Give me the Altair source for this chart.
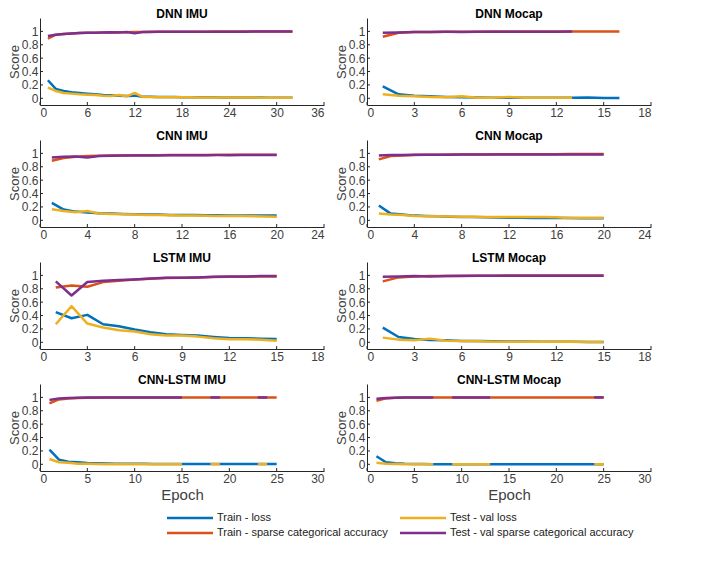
import altair as alt
import pandas as pd

# ---------------- data ----------------
series_names = ["Train - loss", "Train - sparse categorical accuracy",
                "Test - val loss", "Test - val sparse categorical accuracy"]
series_colors = ["#0072BD", "#D95319", "#EDB120", "#7E2F8E"]
legend_col = [0, 0, 1, 1]
legend_row = [0, 1, 0, 1]

N = None

# DNN IMU (32 epochs)
dnn_imu_tl = [0.27, 0.14, 0.11, 0.09, 0.08, 0.07, 0.06, 0.05, 0.045, 0.04, 0.035, 0.04, 0.025, 0.022,
              0.02, 0.02, 0.018, 0.017, 0.016, 0.015, 0.015, 0.014, 0.013, 0.013, 0.012, 0.012, 0.011,
              0.011, 0.01, 0.01, 0.01, 0.01]
dnn_imu_ta = [0.89, 0.95, 0.96, 0.97, 0.975, 0.978, 0.98, 0.983, 0.985, 0.987, 0.988, 0.99, 0.992,
              0.993, 0.994, 0.994, 0.995, 0.995, 0.996, 0.996, 0.996, 0.997, 0.997, 0.997, 0.997, 0.998,
              0.998, 0.998, 0.998, 0.998, 0.998, 0.998]
dnn_imu_vl = [0.16, 0.11, 0.08, 0.07, 0.06, 0.055, 0.05, 0.04, 0.035, 0.05, 0.03, 0.08, 0.02, 0.018,
              0.017, 0.016, 0.015, 0.015, 0.014, 0.013, 0.013, 0.012, 0.012, 0.012, 0.011, 0.011, 0.011,
              0.01, 0.01, 0.01, 0.01, 0.01]
dnn_imu_va = [0.93, 0.95, 0.96, 0.97, 0.975, 0.978, 0.98, 0.985, 0.987, 0.985, 0.99, 0.97, 0.99,
              0.992, 0.993, 0.993, 0.994, 0.994, 0.995, 0.995, 0.995, 0.996, 0.996, 0.996, 0.996, 0.996,
              0.997, 0.997, 0.997, 0.997, 0.997, 0.997]

# DNN Mocap (train 16 epochs, test 13)
dnn_mocap_tl = [0.18, 0.06, 0.04, 0.03, 0.02, 0.015, 0.012, 0.01, 0.01, 0.009, 0.008, 0.008, 0.007,
                0.012, 0.006, 0.005]
dnn_mocap_ta = [0.92, 0.98, 0.99, 0.992, 0.994, 0.995, 0.996, 0.997, 0.997, 0.998, 0.998, 0.998, 0.998,
                0.998, 0.999, 0.999]
dnn_mocap_vl = [0.06, 0.04, 0.03, 0.02, 0.015, 0.03, 0.01, 0.01, 0.02, 0.01, 0.01, 0.01, 0.01]
dnn_mocap_va = [0.98, 0.985, 0.99, 0.992, 0.993, 0.99, 0.995, 0.995, 0.993, 0.995, 0.996, 0.996, 0.997]

# CNN IMU (20 epochs)
cnn_imu_tl = [0.26, 0.16, 0.13, 0.115, 0.105, 0.1, 0.095, 0.09, 0.085, 0.085, 0.08, 0.08, 0.078, 0.075,
              0.075, 0.073, 0.072, 0.07, 0.07, 0.07]
cnn_imu_ta = [0.89, 0.93, 0.95, 0.96, 0.965, 0.968, 0.97, 0.972, 0.973, 0.974, 0.975, 0.976, 0.977, 0.977,
              0.978, 0.978, 0.979, 0.979, 0.98, 0.98]
cnn_imu_vl = [0.165, 0.14, 0.12, 0.14, 0.1, 0.095, 0.09, 0.085, 0.08, 0.08, 0.075, 0.072, 0.07, 0.068,
              0.066, 0.065, 0.063, 0.06, 0.058, 0.055]
cnn_imu_va = [0.94, 0.95, 0.955, 0.94, 0.96, 0.965, 0.967, 0.968, 0.97, 0.97, 0.971, 0.972, 0.972, 0.973,
              0.974, 0.974, 0.975, 0.975, 0.975, 0.976]

# CNN Mocap (20 epochs)
cnn_mocap_tl = [0.22, 0.1, 0.085, 0.07, 0.065, 0.06, 0.055, 0.05, 0.048, 0.045, 0.043, 0.04, 0.038, 0.036,
                0.035, 0.034, 0.033, 0.032, 0.031, 0.03]
cnn_mocap_ta = [0.91, 0.96, 0.97, 0.975, 0.978, 0.98, 0.982, 0.983, 0.984, 0.985, 0.986, 0.986, 0.987,
                0.987, 0.988, 0.988, 0.989, 0.989, 0.99, 0.99]
cnn_mocap_vl = [0.1, 0.085, 0.08, 0.065, 0.062, 0.06, 0.058, 0.055, 0.052, 0.05, 0.05, 0.05, 0.05, 0.05,
                0.05, 0.045, 0.035, 0.038, 0.04, 0.04]
cnn_mocap_va = [0.97, 0.975, 0.977, 0.978, 0.979, 0.98, 0.981, 0.982, 0.982, 0.983, 0.983, 0.984, 0.984,
                0.984, 0.984, 0.985, 0.985, 0.985, 0.985, 0.985]

# LSTM IMU (15 epochs)
lstm_imu_tl = [0.45, 0.36, 0.41, 0.27, 0.24, 0.19, 0.15, 0.12, 0.11, 0.1, 0.08, 0.065, 0.06, 0.055, 0.05]
lstm_imu_ta = [0.82, 0.85, 0.83, 0.9, 0.92, 0.94, 0.95, 0.96, 0.965, 0.97, 0.975, 0.98, 0.98, 0.985, 0.985]
lstm_imu_vl = [0.27, 0.54, 0.28, 0.22, 0.18, 0.16, 0.12, 0.1, 0.1, 0.085, 0.06, 0.045, 0.045, 0.04, 0.025]
lstm_imu_va = [0.91, 0.7, 0.9, 0.92, 0.93, 0.94, 0.955, 0.965, 0.965, 0.97, 0.98, 0.985, 0.985, 0.99, 0.99]

# LSTM Mocap (15 epochs)
lstm_mocap_tl = [0.22, 0.08, 0.05, 0.035, 0.03, 0.02, 0.018, 0.015, 0.013, 0.012, 0.01, 0.008, 0.007,
                 0.006, 0.005]
lstm_mocap_ta = [0.91, 0.97, 0.985, 0.99, 0.992, 0.994, 0.995, 0.996, 0.997, 0.997, 0.998, 0.998, 0.998,
                 0.999, 0.999]
lstm_mocap_vl = [0.07, 0.04, 0.03, 0.055, 0.025, 0.02, 0.015, 0.01, 0.01, 0.01, 0.01, 0.008, 0.012,
                 0.006, 0.005]
lstm_mocap_va = [0.98, 0.985, 0.99, 0.985, 0.99, 0.992, 0.993, 0.994, 0.994, 0.995, 0.995, 0.996, 0.996,
                 0.996, 0.996]

# CNN-LSTM IMU (25 epochs; test values missing on some epochs)
cnnlstm_imu_tl = [0.22, 0.07, 0.04, 0.03, 0.02, 0.015, 0.012, 0.01, 0.009, 0.008, 0.007, 0.006, 0.006,
                  0.005, 0.005, 0.005, 0.004, 0.004, 0.004, 0.004, 0.003, 0.003, 0.003, 0.003, 0.003]
cnnlstm_imu_ta = [0.91, 0.97, 0.985, 0.99, 0.995, 0.996, 0.997, 0.998, 0.998, 0.998, 0.999, 0.999, 0.999,
                  0.999, 0.999, 0.999, 0.999, 0.999, 0.999, 0.999, 0.999, 0.999, 0.999, 0.999, 0.999]
cnnlstm_imu_vl = [0.08, 0.03, 0.025, 0.01, 0.01, 0.005, 0.002, 0.002, 0.002, 0.002, 0.002, 0.002, 0.002,
                  0.002, 0.002, N, N, 0.002, 0.002, N, N, N, 0.002, 0.002, N]
cnnlstm_imu_va = [0.96, 0.985, 0.99, 0.995, 0.997, 0.998, 0.998, 0.998, 0.998, 0.999, 0.999, 0.999, 0.999,
                  0.999, 0.999, N, N, 0.999, 0.999, N, N, N, 0.999, 0.999, N]

# CNN-LSTM Mocap (25 epochs; test values missing on some epochs)
cnnlstm_mocap_tl = [0.12, 0.03, 0.015, 0.008, 0.005, 0.003, 0.002, 0.002, 0.002, 0.002, 0.001, 0.001,
                    0.001, 0.001, 0.001, 0.001, 0.001, 0.001, 0.001, 0.001, 0.001, 0.001, 0.001, 0.001,
                    0.001]
cnnlstm_mocap_ta = [0.95, 0.985, 0.995, 0.998, 0.999, 0.999, 1.0, 1.0, 1.0, 1.0, 1.0, 1.0, 1.0, 1.0, 1.0,
                    1.0, 1.0, 1.0, 1.0, 1.0, 1.0, 1.0, 1.0, 1.0, 1.0]
cnnlstm_mocap_vl = [0.025, 0.01, 0.005, 0.002, 0.001, 0.001, 0.001, N, 0.001, 0.001, 0.001, 0.001, 0.001,
                    N, N, N, N, N, N, N, N, N, N, 0.001, 0.001]
cnnlstm_mocap_va = [0.98, 0.99, 0.995, 0.998, 0.999, 1.0, 1.0, N, 1.0, 1.0, 1.0, 1.0, 1.0,
                    N, N, N, N, N, N, N, N, N, N, 1.0, 1.0]

panels = [
    ("DNN IMU", 36, 6, dnn_imu_tl, dnn_imu_ta, dnn_imu_vl, dnn_imu_va),
    ("DNN Mocap", 18, 3, dnn_mocap_tl, dnn_mocap_ta, dnn_mocap_vl, dnn_mocap_va),
    ("CNN IMU", 24, 4, cnn_imu_tl, cnn_imu_ta, cnn_imu_vl, cnn_imu_va),
    ("CNN Mocap", 24, 4, cnn_mocap_tl, cnn_mocap_ta, cnn_mocap_vl, cnn_mocap_va),
    ("LSTM IMU", 18, 3, lstm_imu_tl, lstm_imu_ta, lstm_imu_vl, lstm_imu_va),
    ("LSTM Mocap", 18, 3, lstm_mocap_tl, lstm_mocap_ta, lstm_mocap_vl, lstm_mocap_va),
    ("CNN-LSTM IMU", 30, 5, cnnlstm_imu_tl, cnnlstm_imu_ta, cnnlstm_imu_vl, cnnlstm_imu_va),
    ("CNN-LSTM Mocap", 30, 5, cnnlstm_mocap_tl, cnnlstm_mocap_ta, cnnlstm_mocap_vl, cnnlstm_mocap_va),
]

y_ticks = [0, 0.2, 0.4, 0.6, 0.8, 1]

# ---------------- chart ----------------
W, H = 284, 87
FONT = "Liberation Sans"
AX = "#262626"
color_scale = alt.Scale(domain=series_names, range=series_colors)


def make_panel(title, xmax, xstep, tl, ta, vl, va, bottom):
    rows = []
    for s, vals in zip(series_names, [tl, ta, vl, va]):
        seg = 0
        prev_ok = False
        for i, v in enumerate(vals):
            if v is None:
                prev_ok = False
                continue
            if not prev_ok:
                seg += 1
            prev_ok = True
            rows.append({"epoch": i + 1, "value": v, "series": s, "seg": f"{s}-{seg}"})
    df = pd.DataFrame(rows)
    xt = list(range(0, xmax + 1, xstep))

    x_scale = alt.Scale(domain=[0, xmax], nice=False, zero=False)
    y_scale = alt.Scale(domain=[-0.1, 1.2], nice=False)
    x_axis = alt.Axis(values=xt, title="Epoch" if bottom else None, format="d")
    y_axis = alt.Axis(values=y_ticks, title="Score", format="~g", labelOverlap=False)
    x_enc = alt.X("epoch:Q", scale=x_scale, axis=x_axis)
    y_enc = alt.Y("value:Q", scale=y_scale, axis=y_axis)
    layers = []
    for s in series_names:
        layers.append(
            alt.Chart(df).transform_filter(alt.datum.series == s)
            .mark_line(strokeWidth=2.5, strokeJoin="round")
            .encode(x=x_enc, y=y_enc,
                    color=alt.Color("series:N", scale=color_scale, legend=None),
                    detail="seg:N")
        )
    # inward tick marks (MATLAB style), sharing the same fields/axes
    xticks = alt.Chart(pd.DataFrame({"epoch": xt})).mark_rule(color=AX, strokeWidth=1).encode(
        x=x_enc, y=alt.value(H), y2=alt.value(H - 3))
    yticks = alt.Chart(pd.DataFrame({"value": y_ticks})).mark_rule(color=AX, strokeWidth=1).encode(
        y=y_enc, x=alt.value(0), x2=alt.value(3))
    return alt.layer(*layers, xticks, yticks).properties(
        width=W, height=H,
        title=alt.TitleParams(title, fontSize=12, fontWeight="bold", font=FONT,
                              color="#000000", offset=-3))


charts = [make_panel(*p, bottom=(i >= 6)) for i, p in enumerate(panels)]
rows_ = [alt.hconcat(charts[2 * r], charts[2 * r + 1], spacing=10) for r in range(4)]
grid = alt.vconcat(*rows_, spacing=12)

# legend (built as a small chart)
leg_df = pd.DataFrame({"label": series_names, "col": legend_col, "row": legend_row})
leg_x = alt.X("col:Q", scale=alt.Scale(domain=[0, 1], range=[150, 383]), axis=None)
leg_y = alt.Y("row:Q", scale=alt.Scale(domain=[0, 1], range=[16, 31]), axis=None)
leg_base = alt.Chart(leg_df).encode(x=leg_x, y=leg_y)
leg_sym = leg_base.mark_rule(strokeWidth=2.5, xOffset=-23, x2Offset=23).encode(
    x2="col:Q", color=alt.Color("label:N", scale=color_scale, legend=None))
leg_txt = leg_base.mark_text(align="left", baseline="middle", dx=27, fontSize=11, font=FONT,
                             color="#222222").encode(text="label:N")
legend = alt.layer(leg_sym, leg_txt).properties(width=630, height=36)

chart = alt.vconcat(grid, legend, spacing=0).properties(padding=0).configure_view(
    stroke=None).configure_axis(
    grid=False, domainColor=AX, domainWidth=1, tickSize=0, labelOverlap=False,
    labelFont=FONT, labelFontSize=12, labelColor="#404040", labelPadding=2,
    titleFont=FONT, titleFontSize=13, titleColor="#404040", titleFontWeight="normal",
    titlePadding=0
).configure_axisX(titleFontSize=15, titlePadding=3)

chart.save("out.html", embed_options={"renderer": "svg", "actions": False})
